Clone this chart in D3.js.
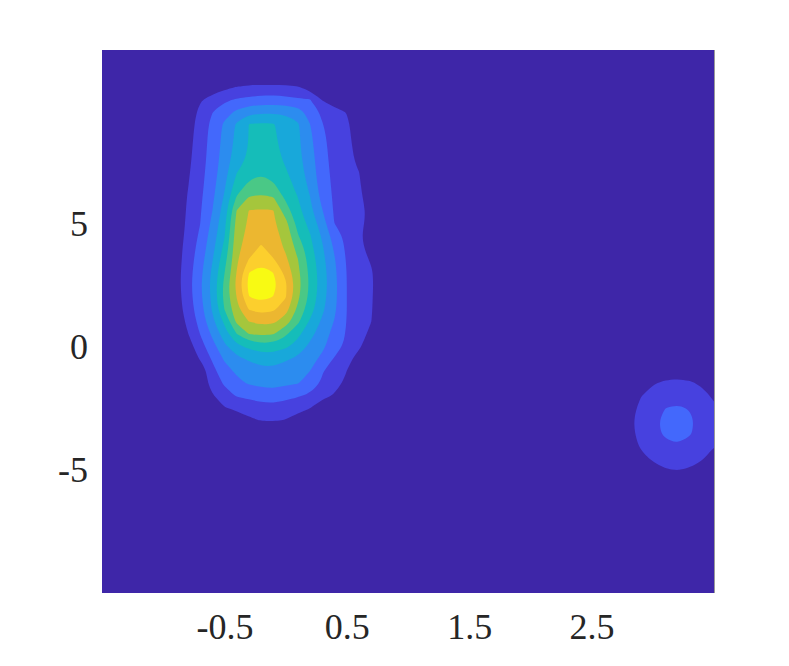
<!DOCTYPE html>
<html><head><meta charset="utf-8">
<script src="https://cdn.jsdelivr.net/npm/d3@7"></script>
<style>body{margin:0;background:#fff}</style>
</head><body>
<svg id="chart" width="789" height="666"></svg>
<script>
// ---- data ----
const xDomain = [-1.5, 3.5];
const yDomain = [-10, 12];
const xTicks = [-0.5, 0.5, 1.5, 2.5];
const yTicks = [-5, 0, 5];
// density grid definition (x: -1.5..3.5 step 0.1, y: 12..-10 step -0.5)
const gridX0 = -1.5, gridDX = 0.1, gridNX = 51;
const gridY0 = 12, gridDY = -0.5, gridNY = 45;
const levels = [1, 2, 3, 4, 5, 6, 7, 8, 9, 10];
const levelColors = ["#3e26a8","#4741df","#4368fc","#2c8cef","#18a8da","#15bdb9","#4ac886","#a5c63c","#ecb730","#fccf2d","#f8fa13"];

// main peak: columns x = -1.0 .. 0.8 (step 0.1), rows y = 10.5 .. -3 (step -0.5)
const mainBlobX0 = -1.0, mainBlobY0 = 10.5;
const mainBlob = [
  [0,0,0,0.1,0.4,0.75,1.02,1.18,1.2,1.22,1.18,1.05,0.55,0.15,0,0,0,0,0],
  [0,0,0,0.86,1.36,1.8,2.07,2.2,2.33,2.39,2.26,2.13,2.0,0.9,0.3,0,0,0,0],
  [0,0,0.32,1.24,1.96,2.56,3.18,3.71,3.76,3.79,3.73,3.42,2.57,1.81,1.39,0.95,0,0,0],
  [0,0,0.49,1.4,2.23,3.16,4.12,5.01,5.12,5.05,4.68,4.12,3.0,2.03,1.59,1.17,0.41,0,0],
  [0,0,0.59,1.48,2.31,3.27,4.23,5.03,5.26,5.11,4.72,4.18,3.2,2.16,1.64,1.23,0.54,0,0],
  [0,0,0.68,1.53,2.37,3.37,4.34,5.08,5.45,5.21,4.77,4.23,3.33,2.23,1.68,1.28,0.68,0,0],
  [0,0,0.76,1.58,2.43,3.48,4.56,5.25,5.69,5.36,4.89,4.31,3.47,2.3,1.71,1.32,0.81,0,0],
  [0,0,0.86,1.65,2.53,3.65,5.0,5.55,5.97,5.68,5.13,4.46,3.6,2.39,1.75,1.4,1.03,0.08,0],
  [0,0,0.95,1.71,2.65,3.86,5.5,6.26,6.46,6.13,5.51,4.68,3.79,2.5,1.79,1.46,1.12,0.35,0],
  [0,0.08,1.06,1.8,2.79,4.14,6.12,7.1,7.23,7.07,5.84,5.02,4.03,2.71,1.82,1.51,1.18,0.57,0],
  [0,0.19,1.14,1.88,2.97,4.46,7.02,8.02,8.07,8.04,6.46,5.31,4.27,3.03,1.86,1.56,1.24,0.76,0],
  [0,0.27,1.2,1.96,3.2,4.71,7.32,8.15,8.4,8.17,7.29,5.62,4.67,3.43,1.96,1.61,1.25,0.68,0],
  [0,0.35,1.28,2.14,3.44,4.92,7.52,8.3,8.73,8.33,7.67,6.05,5.05,3.83,2.48,1.68,1.19,0.41,0],
  [0,0.46,1.39,2.33,3.67,5.25,7.68,8.53,9.12,8.52,7.85,6.65,5.32,4.1,2.84,1.79,1.29,0.57,0],
  [0,0.51,1.46,2.52,3.92,5.61,7.83,9.04,9.68,9.09,8.2,7.03,5.57,4.3,3.07,1.9,1.42,0.89,0],
  [0,0.57,1.55,2.69,4.17,5.95,8.02,9.98,10.35,9.98,8.73,7.25,5.74,4.43,3.2,1.98,1.54,1.1,0.24],
  [0,0.57,1.58,2.81,4.29,6.22,8.29,10.3,10.6,10.35,9.15,7.4,5.81,4.47,3.26,2.0,1.56,1.13,0.32],
  [0,0.51,1.53,2.74,4.24,6.27,8.02,9.98,10.35,9.98,9.09,7.22,5.72,4.37,3.24,2.0,1.55,1.1,0.24],
  [0,0.43,1.43,2.57,4.08,6.01,7.71,9.06,9.37,9.17,8.43,6.78,5.44,4.19,3.16,2.0,1.54,1.08,0.19],
  [0,0.22,1.23,2.33,3.73,5.2,7.22,8.01,8.28,8.19,7.52,6.2,4.86,3.83,2.94,1.97,1.49,1.01,0.05],
  [0,0,0.95,2.0,3.17,4.51,6.0,7.03,7.21,7.07,6.19,5.26,4.32,3.48,2.67,1.9,1.39,0.76,0],
  [0,0,0.54,1.57,2.64,3.78,4.75,5.25,5.57,5.55,5.21,4.6,3.77,3.2,2.47,1.76,1.17,0.3,0],
  [0,0,0.08,1.09,2.12,3.13,3.75,4.16,4.43,4.44,4.17,3.82,3.36,2.78,1.91,1.34,0.59,0,0],
  [0,0,0,0.27,1.65,2.66,3.16,3.41,3.72,3.75,3.46,3.23,3.0,2.08,1.51,1.0,0,0,0],
  [0,0,0,0.41,1.33,2.13,2.75,3.09,3.23,3.3,3.17,3.05,2.56,1.84,1.36,0.78,0,0,0],
  [0,0,0,0,0.89,1.6,2.08,2.28,2.48,2.57,2.35,2.13,1.82,1.39,0.89,0,0,0,0],
  [0,0,0,0,0,0.95,1.18,1.37,1.56,1.64,1.44,1.23,1.03,0.14,0,0,0,0,0],
  [0,0,0,0,0,0.2,0.5,0.85,1.04,1.08,0.97,0.7,0.35,0,0,0,0,0,0]
];

// small peak at the right edge: columns x = 2.8 .. 3.5, rows y = -1 .. -5.5
const smallBlobX0 = 2.8, smallBlobY0 = -1.0;
const smallBlob = [
  [0,0,0.25,0.51,0.59,0.48,0.2,0],
  [0,0.44,0.92,1.15,1.22,1.13,0.86,0.36],
  [0.28,0.95,1.33,1.59,1.68,1.56,1.28,0.85],
  [0.58,1.2,1.64,1.99,2.1,1.95,1.57,1.14],
  [0.73,1.32,1.81,2.18,2.4,2.14,1.73,1.25],
  [0.69,1.29,1.76,2.13,2.29,2.09,1.69,1.22],
  [0.48,1.12,1.53,1.85,1.97,1.81,1.47,1.06],
  [0.13,0.76,1.19,1.42,1.5,1.4,1.14,0.67],
  [0,0.21,0.66,0.96,1.03,0.93,0.61,0.14],
  [0,0,0,0.22,0.3,0.2,0,0]
];

// ---- build grid ----
const values = new Array(gridNX * gridNY).fill(0);
function place(rows, x0, y0) {
  const ci = Math.round((x0 - gridX0) / gridDX);
  const rj = Math.round((y0 - gridY0) / gridDY);
  rows.forEach((row, r) => row.forEach((v, c) => {
    values[(rj + r) * gridNX + ci + c] += v;
  }));
}
place(mainBlob, mainBlobX0, mainBlobY0);
place(smallBlob, smallBlobX0, smallBlobY0);

// ---- layout ----
const svg = d3.select("#chart");
const plot = {left: 102, right: 714, top: 50, bottom: 593};
const x = d3.scaleLinear().domain(xDomain).range([plot.left, plot.right]);
const y = d3.scaleLinear().domain(yDomain).range([plot.bottom, plot.top]);

svg.append("defs").append("clipPath").attr("id", "clip")
  .append("rect").attr("x", plot.left).attr("y", plot.top)
  .attr("width", plot.right - plot.left).attr("height", plot.bottom - plot.top);

const g = svg.append("g").attr("clip-path", "url(#clip)");
g.append("rect").attr("x", plot.left).attr("y", plot.top)
  .attr("width", plot.right - plot.left).attr("height", plot.bottom - plot.top)
  .attr("fill", levelColors[0]);

const contours = d3.contours().size([gridNX, gridNY]).thresholds(levels)(values);
// grid coordinate -> pixel (value index i sits at grid coordinate i + 0.5)
const gx = c => x(gridX0 + (c - 0.5) * gridDX);
const gy = r => y(gridY0 + (r - 0.5) * gridDY);
const ringLine = d3.line().x(p => gx(p[0])).y(p => gy(p[1])).curve(d3.curveBasisClosed);
function contourPath(c) {
  let d = "";
  c.coordinates.forEach(poly => poly.forEach(ring => {
    const pts = ring.slice(0, ring.length - 1);
    d += ringLine(pts);
  }));
  return d;
}
g.selectAll("path.lvl").data(contours).join("path")
  .attr("class", "lvl")
  .attr("d", contourPath)
  .attr("fill-rule", "evenodd")
  .attr("fill", (d, i) => levelColors[i + 1])
  .attr("stroke", "none");

// right edge line
svg.append("line").attr("x1", plot.right + 0.5).attr("x2", plot.right + 0.5)
  .attr("y1", plot.top).attr("y2", plot.bottom).attr("stroke", "#9a9a9a").attr("stroke-width", 1);

// ---- axes ----
const font = "'Liberation Serif', 'Times New Roman', serif";
const xAxis = svg.append("g").attr("transform", `translate(0,${plot.bottom})`)
  .call(d3.axisBottom(x).tickValues(xTicks).tickSize(0).tickPadding(0).tickFormat(d => String(d)));
xAxis.select(".domain").remove();
xAxis.selectAll("text").attr("y", 46).attr("dy", 0)
  .style("font-family", font).style("font-size", "36px").attr("fill", "#262626");

const yAxis = svg.append("g").attr("transform", `translate(${plot.left},0)`)
  .call(d3.axisLeft(y).tickValues(yTicks).tickSize(0).tickPadding(0).tickFormat(d => String(d)));
yAxis.select(".domain").remove();
yAxis.selectAll("text").attr("x", -14).attr("dy", "0.34em")
  .style("font-family", font).style("font-size", "36px").attr("fill", "#262626");
</script>
</body></html>
